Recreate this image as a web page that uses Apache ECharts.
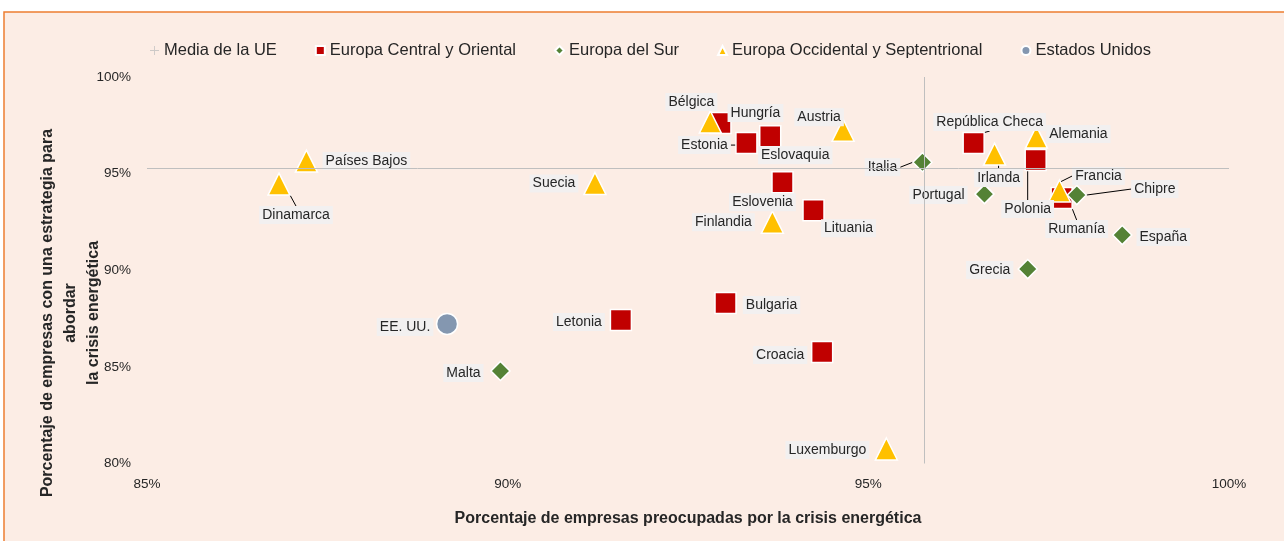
<!DOCTYPE html>
<html>
<head>
  <meta charset="utf-8">
  <title>Crisis energética</title>
  <script src="https://cdn.jsdelivr.net/npm/echarts@6/dist/echarts.min.js"></script>
  <style>
    html, body { margin: 0; padding: 0; background: #fff; }
    #chart { width: 1284px; height: 541px; }
  </style>
</head>
<body>
<div id="chart"></div>
<script>
  // media UE
  var meanX = 95.78;
  var meanY = 95.29;

  // Europa Central y Oriental
  var centralNames = ['Hungría', 'Estonia', 'Eslovaquia', 'Eslovenia', 'Lituania', 'República Checa', 'Polonia', 'Rumanía', 'Letonia', 'Bulgaria', 'Croacia'];
  var centralX = [92.95, 93.31, 93.64, 93.81, 94.24, 96.46, 97.32, 97.68, 91.57, 93.02, 94.36];
  var centralY = [97.62, 96.58, 96.94, 94.56, 93.11, 96.58, 95.70, 93.74, 87.42, 88.30, 85.77];

  // Europa del Sur
  var southNames = ['Italia', 'Portugal', 'Chipre', 'España', 'Grecia', 'Malta'];
  var southX = [95.75, 96.61, 97.89, 98.52, 97.21, 89.90];
  var southY = [95.59, 93.94, 93.89, 91.82, 90.06, 84.79];

  // Europa Occidental y Septentrional
  var westNames = ['Dinamarca', 'Países Bajos', 'Suecia', 'Bélgica', 'Austria', 'Finlandia', 'Alemania', 'Irlanda', 'Francia', 'Luxemburgo'];
  var westX = [86.83, 87.21, 91.21, 92.81, 94.65, 93.67, 97.33, 96.75, 97.65, 95.25];
  var westY = [94.46, 95.65, 94.49, 97.67, 97.25, 92.49, 96.89, 96.01, 94.10, 80.75];

  // Estados Unidos
  var usNames = ['EE. UU.'];
  var usX = [89.16];
  var usY = [87.22];

  var xTicks = [85, 90, 95, 100];
  var yTicks = [80, 85, 90, 95, 100];

  // posicion de etiquetas (px desde el centro del marcador) y lineas guia
  var labelOffset = {
    'Dinamarca': [17, 31], 'Países Bajos': [60, 0], 'Suecia': [-41, 0],
    'Bélgica': [-19, -20], 'Hungría': [35, -10], 'Estonia': [-42, 2],
    'Eslovaquia': [25, 19], 'Austria': [-24, -13], 'Eslovenia': [-20, 20],
    'Lituania': [35, 18], 'Finlandia': [-49, 0], 'Italia': [-40, 5],
    'República Checa': [16, -21], 'Alemania': [42, -3], 'Irlanda': [4, 24],
    'Polonia': [-8, 49], 'Portugal': [-46, 1], 'Francia': [39, -15],
    'Rumanía': [15, 31], 'Chipre': [78, -6], 'España': [41, 2],
    'Grecia': [-38, 1], 'EE. UU.': [-42, 3], 'Malta': [-37, 2],
    'Letonia': [-42, 2], 'Bulgaria': [46, 2], 'Croacia': [-42, 3],
    'Luxemburgo': [-59, 1]
  };
  var withLine = ['Dinamarca', 'Estonia', 'Italia', 'República Checa', 'Irlanda', 'Polonia', 'Francia', 'Rumanía', 'Chipre'];

  var font = '"Liberation Sans", Arial, sans-serif';

  function points(names, xs, ys) {
    return names.map(function (n, i) {
      var item = { name: n, value: [xs[i], ys[i]] };
      if (withLine.indexOf(n) >= 0) {
        item.labelLine = { show: true, lineStyle: { color: '#000', width: 1 } };
      }
      return item;
    });
  }

  function groupSeries(name, names, xs, ys, symbol, size, color) {
    return {
      name: name,
      type: 'scatter',
      symbol: symbol,
      symbolSize: size,
      data: points(names, xs, ys),
      itemStyle: { color: color, borderColor: '#fff', borderWidth: 1.5, opacity: 1 },
      label: {
        show: true,
        formatter: '{b}',
        position: 'inside',
        color: '#262626',
        fontFamily: font,
        fontSize: 14,
        backgroundColor: '#F2F0F0',
        padding: [2, 3]
      },
      labelLine: { show: false },
      labelLayout: function (p) {
        var o = labelOffset[p.text] || [0, 0];
        return {
          x: p.rect.x + p.rect.width / 2 + o[0],
          y: p.rect.y + p.rect.height / 2 + o[1],
          align: 'center',
          verticalAlign: 'middle'
        };
      },
      emphasis: { disabled: true }
    };
  }

  var chart = echarts.init(document.getElementById('chart'));
  var option = {
    animation: false,
    backgroundColor: '#fff',
    textStyle: { fontFamily: font },
    graphic: [
      {
        type: 'rect', z: -10, silent: true,
        shape: { x: 4, y: 12, width: 1320, height: 600 },
        style: { fill: '#FCEDE5', stroke: '#ED7D31', lineWidth: 1.5 }
      },
      {
        type: 'text', x: 71, y: 313, rotation: Math.PI / 2, silent: true,
        style: {
          text: 'Porcentaje de empresas con una estrategia para\nabordar\nla crisis energética',
          font: 'bold 16px ' + font,
          fill: '#262626',
          align: 'center', verticalAlign: 'middle',
          textAlign: 'center', textVerticalAlign: 'middle',
          lineHeight: 23
        }
      }
    ],
    legend: {
      left: 145,
      top: 37,
      itemGap: 38,
      itemWidth: 9,
      itemHeight: 9,
      textStyle: { fontFamily: font, fontSize: 16.5, color: '#262626' },
      data: [
        { name: 'Media de la UE', icon: 'path://M4.5,0H5.5V4.5H10V5.5H5.5V10H4.5V5.5H0V4.5H4.5Z' },
        { name: 'Europa Central y Oriental', icon: 'rect' },
        { name: 'Europa del Sur', icon: 'diamond' },
        { name: 'Europa Occidental y Septentrional', icon: 'triangle' },
        { name: 'Estados Unidos', icon: 'circle' }
      ]
    },
    grid: { left: 147, right: 55, top: 77, bottom: 77.5 },
    xAxis: {
      type: 'value',
      min: xTicks[0], max: xTicks[xTicks.length - 1], interval: 5,
      axisLine: { show: false }, axisTick: { show: false }, splitLine: { show: false },
      axisLabel: { formatter: '{value}%', color: '#262626', fontSize: 13.5, margin: 14 },
      name: 'Porcentaje de empresas preocupadas por la crisis energética',
      nameLocation: 'middle',
      nameGap: 47,
      nameTextStyle: { fontWeight: 'bold', fontSize: 16, color: '#262626' }
    },
    yAxis: {
      type: 'value',
      min: yTicks[0], max: yTicks[yTicks.length - 1], interval: 5,
      axisLine: { show: false }, axisTick: { show: false }, splitLine: { show: false },
      axisLabel: { formatter: '{value}%', color: '#262626', fontSize: 13.5, margin: 16 }
    },
    series: [
      {
        name: 'Media de la UE',
        type: 'scatter',
        symbolSize: 0,
        data: [[meanX, meanY]],
        itemStyle: { color: '#BFBFBF' },
        markLine: {
          silent: true,
          symbol: 'none',
          label: { show: false },
          lineStyle: { color: '#BFBFBF', type: 'solid', width: 1 },
          data: [{ xAxis: meanX }, { yAxis: meanY }]
        }
      },
      groupSeries('Europa Central y Oriental', centralNames, centralX, centralY, 'rect', 21, '#C00000'),
      groupSeries('Europa del Sur', southNames, southX, southY, 'diamond', 19, '#548235'),
      groupSeries('Europa Occidental y Septentrional', westNames, westX, westY, 'triangle', 22, '#FFC000'),
      groupSeries('Estados Unidos', usNames, usX, usY, 'circle', 21, '#8497B0')
    ]
  };
  chart.setOption(option);
</script>
</body>
</html>
